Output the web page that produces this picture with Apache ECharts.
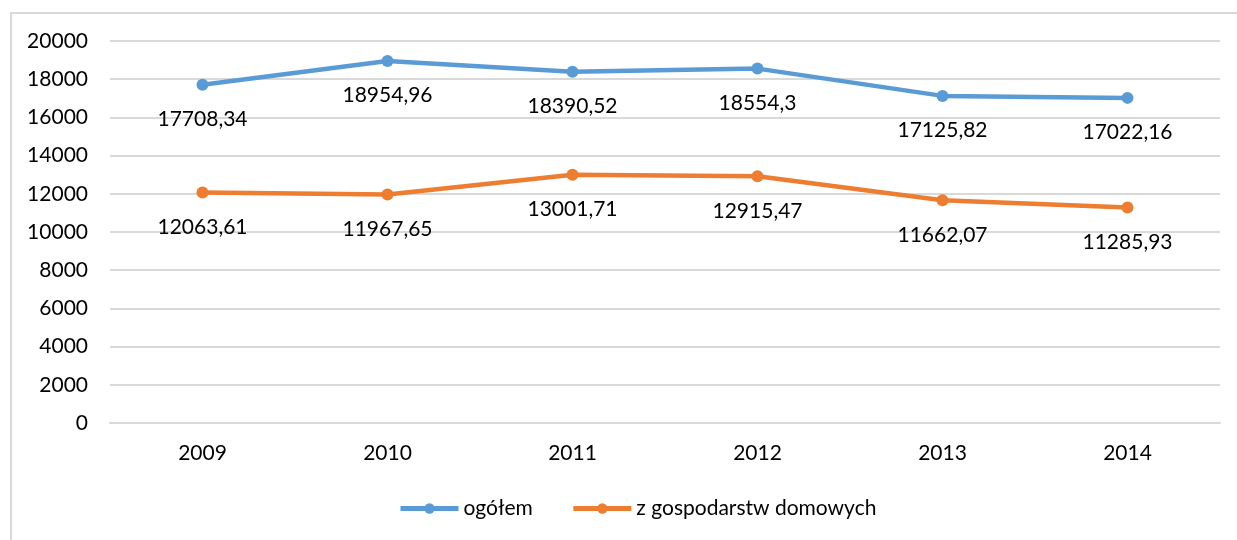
<!DOCTYPE html>
<html>
<head>
<meta charset="utf-8">
<script src="https://cdn.jsdelivr.net/npm/echarts@6/dist/echarts.min.js"></script>
<style>
  html, body { margin: 0; padding: 0; background: #fff; }
  #frame {
    position: absolute; left: 10px; top: 12px; width: 1240px; height: 540px;
    border-left: 2px solid #d9d9d9; border-top: 2px solid #d9d9d9;
  }
  #chart { position: absolute; left: 0; top: 0; width: 1237px; height: 540px; }
</style>
</head>
<body>
<div id="frame"></div>
<div id="chart"></div>
<script>
const years = ['2009', '2010', '2011', '2012', '2013', '2014']
const ogolem = [17708.34, 18954.96, 18390.52, 18554.3, 17125.82, 17022.16]
const gospodarstwa = [12063.61, 11967.65, 13001.71, 12915.47, 11662.07, 11285.93]

let myChart = echarts.init(document.getElementById('chart'))
const colors = ['#5B9BD5', '#ED7D31']
const fontBase = { fontFamily: 'Lato', fontSize: 21, color: '#000' }

const fmt = p => String(p.value).replace('.', ',')

let option = {
  animation: false,
  color: colors,
  textStyle: { fontFamily: 'Lato' },
  grid: { left: 110, right: 17, top: 41, bottom: 117 },
  legend: {
    bottom: 16,
    left: 393,
    itemWidth: 58,
    itemHeight: 13,
    itemGap: 38,
    textStyle: fontBase,
    lineStyle: { width: 5 },
    data: ['ogółem', 'z gospodarstw domowych']
  },
  xAxis: {
    type: 'category',
    data: years,
    axisTick: { show: false },
    axisLine: { lineStyle: { color: '#d9d9d9', width: 2 } },
    axisLabel: Object.assign({ margin: 20 }, fontBase)
  },
  yAxis: {
    type: 'value',
    min: 0,
    max: 20000,
    interval: 2000,
    axisLine: { show: false },
    axisTick: { show: false },
    splitLine: { lineStyle: { color: '#d9d9d9', width: 2 } },
    axisLabel: Object.assign({ margin: 22, formatter: v => String(v) }, fontBase)
  },
  series: [
    {
      name: 'ogółem',
      type: 'line',
      data: ogolem,
      symbol: 'circle',
      symbolSize: 12,
      lineStyle: { width: 4.5 },
      label: Object.assign({ show: true, position: 'bottom', distance: 18, formatter: fmt }, fontBase)
    },
    {
      name: 'z gospodarstw domowych',
      type: 'line',
      data: gospodarstwa,
      symbol: 'circle',
      symbolSize: 12,
      lineStyle: { width: 4.5 },
      label: Object.assign({ show: true, position: 'bottom', distance: 18, formatter: fmt }, fontBase)
    }
  ]
}

option && myChart.setOption(option)
</script>
</body>
</html>
